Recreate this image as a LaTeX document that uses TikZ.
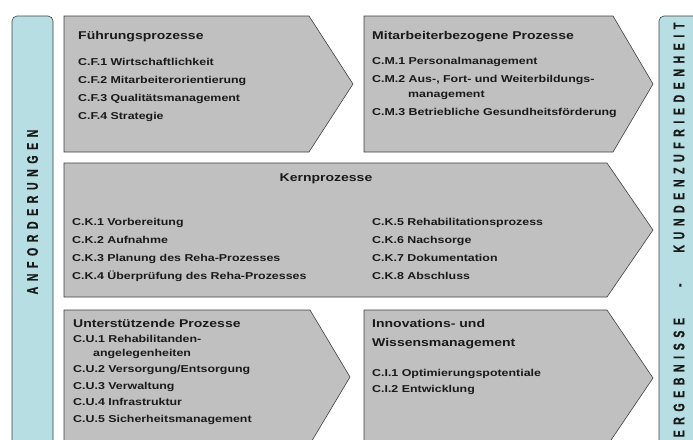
\documentclass[tikz,border=0pt]{standalone}
\usepackage{fontspec}
\setmainfont{Liberation Sans}[FakeStretch=1.24]
\newfontfamily\barfont{Liberation Sans}[FakeStretch=0.68, LetterSpace=36, FakeBold=0.8]
\definecolor{procgray}{HTML}{C0C0C0}
\definecolor{barblue}{HTML}{B7DEE3}
\definecolor{inkgray}{HTML}{1A1A1A}

\begin{document}
\begin{tikzpicture}[
    x=1pt, y=-1pt,
    proc/.style={draw=black!75, fill=procgray, line width=0.6pt, line join=miter},
    bar/.style={draw=black!75, fill=barblue, line width=0.6pt, rounded corners=5pt},
    ptitle/.style={anchor=base west, inner sep=0pt, text=inkgray, align=left, font=\fontsize{11.3}{19}\selectfont\bfseries},
    plist/.style={anchor=north west, inner sep=0pt, text=inkgray, align=left, font=\fontsize{10}{15}\selectfont\bfseries},
    bartext/.style={rotate=90, inner sep=0pt, text=inkgray, font=\barfont\fontsize{15.5}{15.5}\selectfont\bfseries}
]
\useasboundingbox (0,0) rectangle (693,439);
\clip (0,0) rectangle (693,439);

% Side bars
\draw[bar] (12,16) rectangle (53,480);
\draw[bar] (659,16) rectangle (700,480);
\node (anf) [bartext] at (32.5,212) {ANFORDERUNGEN};
\node (erg) [bartext] at (679,230) {ERGEBNISSE\hspace{31pt}-\hspace{31pt}KUNDENZUFRIEDENHEIT};

% Fuehrungsprozesse
\draw[proc] (64,16) -- (309,16) -- (353,84) -- (309,152) -- (64,152) -- cycle;
\node (ftitle) [ptitle] at (78,39) {Führungsprozesse};
\node (fitems) [plist] at (78,58.5) {C.F.1 Wirtschaftlichkeit\\[3pt]
    C.F.2 Mitarbeiterorientierung\\[3pt]
    C.F.3 Qualitätsmanagement\\[3pt]
    C.F.4 Strategie};

% Mitarbeiterbezogene Prozesse
\draw[proc] (364,16) -- (613,16) -- (653,84) -- (613,152) -- (364,152) -- cycle;
\node (mtitle) [ptitle] at (372,39) {Mitarbeiterbezogene Prozesse};
\node (mitems) [plist] at (372,57.5) {C.M.1 Personalmanagement\\[3pt]
    C.M.2 Aus-, Fort- und Weiterbildungs-\\
    \hspace*{36pt}management\\[3pt]
    C.M.3 Betriebliche Gesundheitsförderung};

% Kernprozesse
\draw[proc] (64,163) -- (607,163) -- (653,230) -- (607,297) -- (64,297) -- cycle;
\node (ktitle) [ptitle, anchor=base] at (326,181) {Kernprozesse};
\node (kleft) [plist] at (72,218.5) {C.K.1 Vorbereitung\\[3pt]
    C.K.2 Aufnahme\\[3pt]
    C.K.3 Planung des Reha-Prozesses\\[3pt]
    C.K.4 Überprüfung des Reha-Prozesses};
\node (kright) [plist] at (372,218.5) {C.K.5 Rehabilitationsprozess\\[3pt]
    C.K.6 Nachsorge\\[3pt]
    C.K.7 Dokumentation\\[3pt]
    C.K.8 Abschluss};

% Unterstuetzende Prozesse
\draw[proc] (64,310) -- (310,310) -- (350,377) -- (310,444) -- (64,444) -- cycle;
\node (utitle) [ptitle] at (73,327) {Unterstützende Prozesse};
\node (uitems) [plist, font=\fontsize{10}{13.5}\selectfont\bfseries] at (73,335.5) {C.U.1 Rehabilitanden-\\
    \hspace*{20pt}angelegenheiten\\[3pt]
    C.U.2 Versorgung/Entsorgung\\[3pt]
    C.U.3 Verwaltung\\[3pt]
    C.U.4 Infrastruktur\\[3pt]
    C.U.5 Sicherheitsmanagement};

% Innovations- und Wissensmanagement
\draw[proc] (364,310) -- (607,310) -- (653,378) -- (607,446) -- (364,446) -- cycle;
\node (ititle) [ptitle] at (372,346) {Innovations- und\\Wissensmanagement};
\node (iitems) [plist] at (372,369) {C.I.1 Optimierungspotentiale\\[1pt]
    C.I.2 Entwicklung};
\end{tikzpicture}
\end{document}
